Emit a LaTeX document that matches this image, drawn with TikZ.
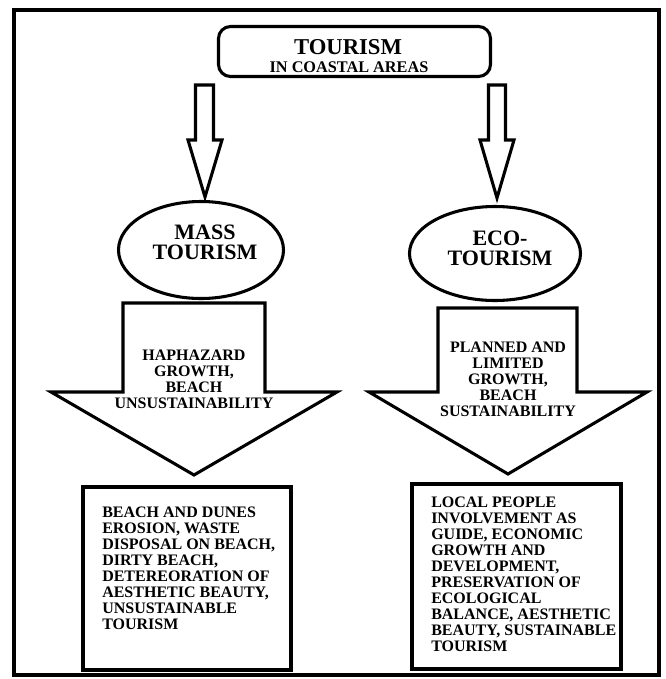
\documentclass[tikz,border=0pt]{standalone}
\usepackage{fontspec}
\setmainfont{Liberation Serif}
\usetikzlibrary{shapes.geometric}
\begin{document}
\begin{tikzpicture}[x=0.75pt,y=-0.75pt]
% Estilos
\tikzstyle{frame} = [line width=3pt]
\tikzstyle{topbox} = [rectangle, rounded corners=9pt, draw, line width=2.3pt, minimum width=204pt, minimum height=37.5pt]
\tikzstyle{ellip} = [ellipse, draw, line width=2.3pt]
\tikzstyle{outbox} = [rectangle, draw, line width=3pt]
\tikzstyle{txt} = [inner sep=0pt, font=\bfseries\fontsize{12}{12}\selectfont]
\tikzstyle{elltxt} = [inner sep=0pt, align=center, font=\bfseries\fontsize{16.5}{15}\selectfont]
\tikzstyle{blockarrow} = [line width=2.3pt, line join=miter]

\useasboundingbox (0,0) rectangle (665,679);

% Marco
\draw[frame] (14,10) rectangle (659,675);

% Titulo
\node[topbox] (tourism) at (354.5,51.5) {};
\node[inner sep=0pt, font=\bfseries\fontsize{17}{17}\selectfont] (tourismtxt) at (348,47) {TOURISM};
\node[inner sep=0pt, font=\bfseries\fontsize{12.2}{12}\selectfont] (coastaltxt) at (349,67) {IN COASTAL AREAS};

% Flechas delgadas
\draw[blockarrow] (195.5,85) -- (195.5,140) -- (188,140) -- (205,197) -- (222,140) -- (213.5,140) -- (213.5,85) -- cycle;
\draw[blockarrow] (488.5,85) -- (488.5,140) -- (480,140) -- (497,198) -- (514,140) -- (505.5,140) -- (505.5,85) -- cycle;

% Tipos de turismo
\node[ellip, minimum width=123.75pt, minimum height=72.75pt] (mass) at (201,250) {};
\node[elltxt] (masstxt) at (205,242) {MASS\\TOURISM};
\node[ellip, minimum width=128.25pt, minimum height=70.5pt] (eco) at (495,253.5) {};
\node[elltxt] (ecotxt) at (500,248) {ECO-\\TOURISM};

% Flechas grandes
\draw[blockarrow] (123,303) -- (123,392) -- (51,392) -- (194,475) -- (337,392) -- (265,392) -- (265,303) -- cycle;
\node[txt, align=center] (massgrowth) at (194,379) {HAPHAZARD\\GROWTH,\\BEACH\\UNSUSTAINABILITY};

\draw[blockarrow] (438,308) -- (438,392) -- (369,392) -- (508,474) -- (647,392) -- (577,392) -- (577,308) -- cycle;
\node[txt, align=center] (ecogrowth) at (508,379) {PLANNED AND\\LIMITED\\GROWTH,\\BEACH\\SUSTAINABILITY};

% Efectos
\node[outbox, minimum width=156pt, minimum height=137.25pt] (massbox) at (187,578.5) {};
\node[txt, align=left, anchor=north west] (masseffects) at (102,506.5) {
    BEACH AND DUNES\\
    EROSION, WASTE\\
    DISPOSAL ON BEACH,\\
    DIRTY BEACH,\\
    DETEREORATION OF\\
    AESTHETIC BEAUTY,\\
    UNSUSTAINABLE\\
    TOURISM
};

\node[outbox, minimum width=156.75pt, minimum height=138.75pt] (ecobox) at (516.5,576.5) {};
\node[txt, align=left, anchor=north west] (ecoeffects) at (431,496.5) {
    LOCAL PEOPLE\\
    INVOLVEMENT AS\\
    GUIDE, ECONOMIC\\
    GROWTH AND\\
    DEVELOPMENT,\\
    PRESERVATION OF\\
    ECOLOGICAL\\
    BALANCE, AESTHETIC\\
    BEAUTY, SUSTAINABLE\\
    TOURISM
};
\end{tikzpicture}
\end{document}
